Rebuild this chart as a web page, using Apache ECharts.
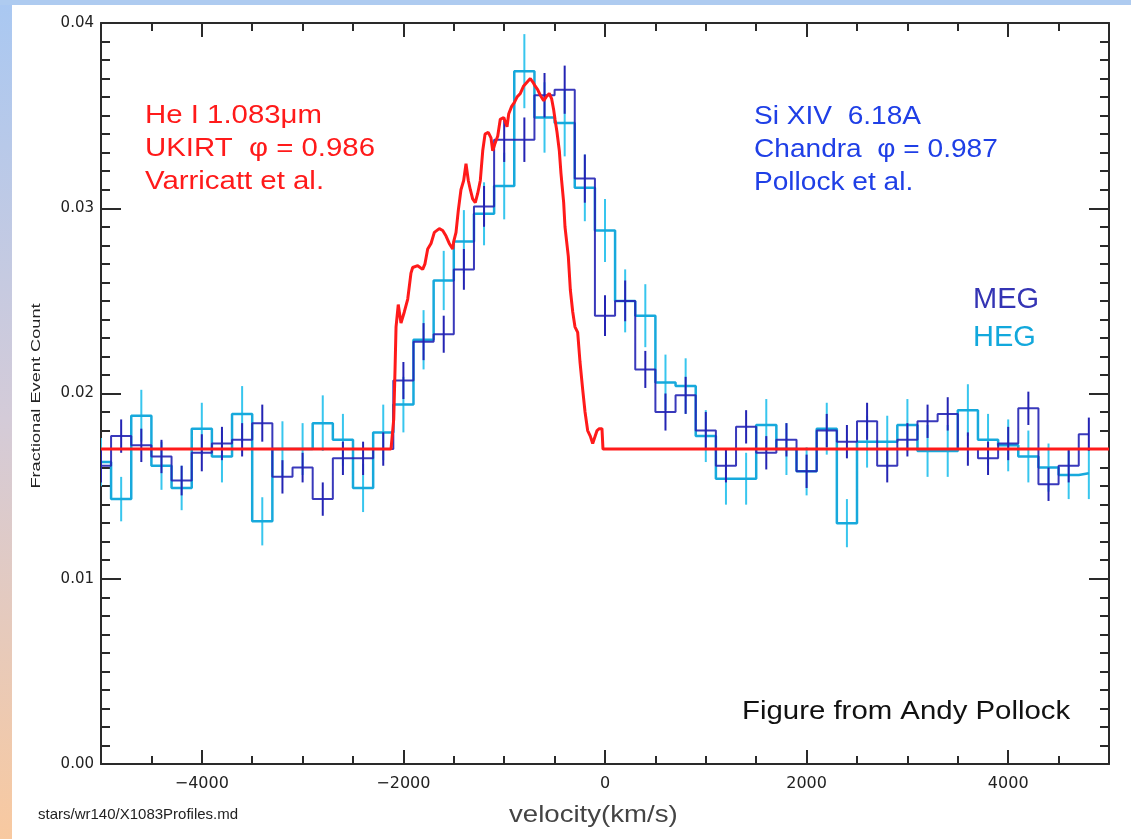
<!DOCTYPE html>
<html>
<head>
<meta charset="utf-8">
<title>He I 1.083um vs Si XIV 6.18A line profiles</title>
<script src="https://cdn.jsdelivr.net/npm/echarts@6/dist/echarts.min.js"></script>
<style>
  html, body { margin: 0; padding: 0; background: #fff; }
  #chart { width: 1131px; height: 839px; }
</style>
</head>
<body>
<div id="chart"></div>
<script>
// Chandra bin centres, km/s
var binVel = [-5000, -4800, -4600, -4400, -4200, -4000, -3800, -3600, -3400, -3200,
  -3000, -2800, -2600, -2400, -2200, -2000, -1800, -1600, -1400, -1200,
  -1000, -800, -600, -400, -200, 0, 200, 400, 600, 800,
  1000, 1200, 1400, 1600, 1800, 2000, 2200, 2400, 2600, 2800,
  3000, 3200, 3400, 3600, 3800, 4000, 4200, 4400, 4600, 4800];

var megY = [0.0161, 0.0177, 0.0172, 0.0166, 0.0153, 0.0168, 0.0173, 0.0175, 0.0184, 0.0155,
  0.0160, 0.0143, 0.0165, 0.0165, 0.0170, 0.0207, 0.0228, 0.0232, 0.0267, 0.0301,
  0.0337, 0.0337, 0.0361, 0.0364, 0.0316, 0.0242, 0.0250, 0.0213, 0.0190, 0.0199,
  0.0180, 0.0161, 0.0182, 0.0168, 0.0175, 0.0158, 0.0180, 0.0174, 0.0185, 0.0161,
  0.0175, 0.0185, 0.0189, 0.0170, 0.0165, 0.0173, 0.0192, 0.0151, 0.0161, 0.0178];
var megErr = [0.0009, 0.0009, 0.0009, 0.0009, 0.0008, 0.0010, 0.0009, 0.0009, 0.0010, 0.0009,
  0.0008, 0.0009, 0.0009, 0.0009, 0.0009, 0.0010, 0.0010, 0.0010, 0.0011, 0.0011,
  0.0012, 0.0012, 0.0012, 0.0013, 0.0013, 0.0011, 0.0011, 0.0010, 0.0010, 0.0010,
  0.0010, 0.0009, 0.0009, 0.0009, 0.0009, 0.0009, 0.0009, 0.0009, 0.0010, 0.0009,
  0.0009, 0.0009, 0.0009, 0.0009, 0.0009, 0.0009, 0.0009, 0.0009, 0.0009, 0.0009];

var hegY = [0.0163, 0.0143, 0.0188, 0.0161, 0.0149, 0.0181, 0.0166, 0.0189, 0.0131, 0.0170,
  0.0170, 0.0184, 0.0175, 0.0149, 0.0179, 0.0194, 0.0229, 0.0261, 0.0282, 0.0297,
  0.0312, 0.0374, 0.0349, 0.0346, 0.0311, 0.0288, 0.0250, 0.0242, 0.0206, 0.0204,
  0.0177, 0.0154, 0.0154, 0.0183, 0.0170, 0.0158, 0.0181, 0.0130, 0.0174, 0.0174,
  0.0183, 0.0169, 0.0169, 0.0191, 0.0175, 0.0172, 0.0166, 0.0160, 0.0156, 0.0157];
var hegErr = [0.0013, 0.0012, 0.0014, 0.0013, 0.0012, 0.0014, 0.0014, 0.0015, 0.0013, 0.0015,
  0.0014, 0.0015, 0.0014, 0.0013, 0.0015, 0.0015, 0.0016, 0.0016, 0.0017, 0.0017,
  0.0018, 0.0020, 0.0019, 0.0018, 0.0018, 0.0017, 0.0017, 0.0017, 0.0015, 0.0015,
  0.0014, 0.0014, 0.0014, 0.0014, 0.0014, 0.0013, 0.0014, 0.0013, 0.0014, 0.0014,
  0.0014, 0.0014, 0.0014, 0.0014, 0.0014, 0.0014, 0.0014, 0.0013, 0.0013, 0.0014];

// UKIRT He I profile (high resolution)
var heV = [-5000, -2123, -2096, -2083, -2073, -2051, -2024, -1991, -1957, -1925,
  -1908, -1858, -1809, -1786, -1759, -1726, -1693, -1644, -1610, -1577,
  -1545, -1511, -1501, -1478, -1455, -1429, -1402, -1379, -1356, -1336,
  -1313, -1287, -1263, -1237, -1213, -1190, -1158, -1131, -1114, -1091,
  -1064, -1039, -1005, -972, -955, -926, -900, -873, -840, -807,
  -774, -741, -714, -694, -668, -642, -608, -585, -553, -529,
  -509, -496, -476, -453, -437, -410, -397, -364, -344, -320,
  -298, -271, -248, -221, -198, -172, -146, -122, -106, -79,
  -57, -30, -20, 5000];
var heY = [0.0170, 0.0170, 0.0186, 0.0213, 0.0236, 0.0248, 0.0238, 0.0244, 0.0251, 0.0265,
  0.0268, 0.0269, 0.0267, 0.0270, 0.0278, 0.0281, 0.0287, 0.0289, 0.0288, 0.0285,
  0.0281, 0.0278, 0.0282, 0.0287, 0.0299, 0.0310, 0.0315, 0.0324, 0.0315, 0.0310,
  0.0305, 0.0303, 0.0308, 0.0315, 0.0331, 0.0340, 0.0341, 0.0338, 0.0331, 0.0335,
  0.0339, 0.0348, 0.0349, 0.0344, 0.0351, 0.0355, 0.0357, 0.0360, 0.0362, 0.0366,
  0.0368, 0.0370, 0.0368, 0.0366, 0.0364, 0.0361, 0.0358, 0.0360, 0.0362, 0.0359,
  0.0353, 0.0348, 0.0341, 0.0331, 0.0319, 0.0303, 0.0290, 0.0274, 0.0256, 0.0244,
  0.0236, 0.0233, 0.0217, 0.0202, 0.0190, 0.0180, 0.0177, 0.0173, 0.0172, 0.0180,
  0.0181, 0.0181, 0.0170, 0.0170];

var xMajorTicks = [-4000, -2000, 0, 2000, 4000];

(function () {
  var ink = '#2a2a2a';
  var red = '#ff1a1a';
  var megColor = '#2424b4';
  var hegColor = '#17a9dc';
  var tickFont = 'DejaVu Sans';
  var textFont = '"Liberation Sans", Arial, sans-serif';

  function zip(xs, ys) {
    return xs.map(function (x, i) { return [x, ys[i]]; });
  }
  function errData(xs, ys, es) {
    return xs.map(function (x, i) { return [x, ys[i] - es[i], ys[i] + es[i]]; });
  }
  function errBars(color, width) {
    return function (params, api) {
      var lo = api.coord([api.value(0), api.value(1)]);
      var hi = api.coord([api.value(0), api.value(2)]);
      return {
        type: 'line',
        shape: { x1: lo[0], y1: lo[1], x2: hi[0], y2: hi[1] },
        style: { stroke: color, lineWidth: width }
      };
    };
  }
  function xLabel(v) {
    if (v % 2000 !== 0) return '';
    return v < 0 ? '\u2212' + Math.abs(v) : String(v);
  }

  var xBase = { type: 'value', min: -5000, max: 5000, splitLine: { show: false } };
  var yBase = { type: 'value', min: 0, max: 0.04, interval: 0.01, splitLine: { show: false } };
  var line = { show: true, onZero: false, lineStyle: { color: ink, width: 2 } };
  var noLine = { show: false, onZero: false };

  var chart = echarts.init(document.getElementById('chart'), null, { renderer: 'canvas' });
  chart.setOption({
    animation: false,
    backgroundColor: '#ffffff',
    grid: { left: 101, right: 22, top: 23, bottom: 75 },
    xAxis: [
      Object.assign({}, xBase, {
        position: 'bottom', interval: 500,
        axisLine: line,
        axisTick: { inside: true, length: 8, lineStyle: { color: ink, width: 2 } },
        axisLabel: { formatter: xLabel, color: '#222', fontFamily: tickFont, fontSize: 16, margin: 12 }
      }),
      Object.assign({}, xBase, {
        position: 'bottom',
        axisLine: noLine,
        axisTick: { inside: true, length: 14, customValues: xMajorTicks, lineStyle: { color: ink, width: 2 } },
        axisLabel: { show: false }
      }),
      Object.assign({}, xBase, {
        position: 'top', interval: 500,
        axisLine: line,
        axisTick: { inside: true, length: 8, lineStyle: { color: ink, width: 2 } },
        axisLabel: { show: false }
      }),
      Object.assign({}, xBase, {
        position: 'top',
        axisLine: noLine,
        axisTick: { inside: true, length: 14, customValues: xMajorTicks, lineStyle: { color: ink, width: 2 } },
        axisLabel: { show: false }
      })
    ],
    yAxis: [
      Object.assign({}, yBase, {
        position: 'left',
        axisLine: line,
        axisTick: { inside: true, length: 20, lineStyle: { color: ink, width: 2 } },
        minorTick: { show: true, splitNumber: 10, length: 9, lineStyle: { color: ink, width: 2 } },
        axisLabel: {
          formatter: function (v) { return v.toFixed(2); },
          color: '#222', fontFamily: tickFont, fontSize: 15, margin: 7
        }
      }),
      Object.assign({}, yBase, {
        position: 'right',
        axisLine: line,
        axisTick: { inside: true, length: 20, lineStyle: { color: ink, width: 2 } },
        minorTick: { show: true, splitNumber: 10, length: 9, lineStyle: { color: ink, width: 2 } },
        axisLabel: { show: false }
      })
    ],
    series: [
      {
        name: 'HEG errors', type: 'custom', clip: true,
        renderItem: errBars('#38c6ee', 2),
        encode: { x: 0, y: [1, 2] },
        data: errData(binVel, hegY, hegErr), z: 2
      },
      {
        name: 'HEG', type: 'line', step: 'middle', symbol: 'none',
        data: zip(binVel, hegY),
        lineStyle: { color: hegColor, width: 2.5 }, z: 3
      },
      {
        name: 'MEG errors', type: 'custom', clip: true,
        renderItem: errBars(megColor, 2),
        encode: { x: 0, y: [1, 2] },
        data: errData(binVel, megY, megErr), z: 4
      },
      {
        name: 'MEG', type: 'line', step: 'middle', symbol: 'none',
        data: zip(binVel, megY),
        lineStyle: { color: megColor, width: 2, opacity: 0.9 }, z: 5
      },
      {
        name: 'He I', type: 'line', symbol: 'none',
        data: zip(heV, heY),
        lineStyle: { color: red, width: 3 }, z: 6
      }
    ],
    graphic: [
      {
        type: 'rect', shape: { x: 0, y: 0, width: 12, height: 839 }, silent: true,
        style: {
          fill: new echarts.graphic.LinearGradient(0, 0, 0, 1, [
            { offset: 0, color: '#a9c8f2' },
            { offset: 0.5, color: '#d4cbd8' },
            { offset: 1, color: '#f8c9a0' }
          ])
        }
      },
      { type: 'rect', shape: { x: 0, y: 0, width: 1131, height: 5 }, silent: true, style: { fill: '#aecbf0' } },

      { type: 'text', x: 145, y: 116, scaleX: 1.13, style: { text: 'He I 1.083\u03bcm', font: '26px ' + textFont, fill: red, textVerticalAlign: 'middle', verticalAlign: 'middle' } },
      { type: 'text', x: 145, y: 149, scaleX: 1.13, style: { text: 'UKIRT  \u03c6 = 0.986', font: '26px ' + textFont, fill: red, textVerticalAlign: 'middle', verticalAlign: 'middle' } },
      { type: 'text', x: 145, y: 182, scaleX: 1.13, style: { text: 'Varricatt et al.', font: '26px ' + textFont, fill: red, textVerticalAlign: 'middle', verticalAlign: 'middle' } },

      { type: 'text', x: 754, y: 117, scaleX: 1.08, style: { text: 'Si XIV  6.18A', font: '26px ' + textFont, fill: '#1f3fe6', textVerticalAlign: 'middle', verticalAlign: 'middle' } },
      { type: 'text', x: 754, y: 150, scaleX: 1.08, style: { text: 'Chandra  \u03c6 = 0.987', font: '26px ' + textFont, fill: '#1f3fe6', textVerticalAlign: 'middle', verticalAlign: 'middle' } },
      { type: 'text', x: 754, y: 183, scaleX: 1.08, style: { text: 'Pollock et al.', font: '26px ' + textFont, fill: '#1f3fe6', textVerticalAlign: 'middle', verticalAlign: 'middle' } },

      { type: 'text', x: 973, y: 300, style: { text: 'MEG', font: '29px ' + textFont, fill: '#3434b4', textVerticalAlign: 'middle', verticalAlign: 'middle' } },
      { type: 'text', x: 973, y: 338, style: { text: 'HEG', font: '29px ' + textFont, fill: '#12a8dc', textVerticalAlign: 'middle', verticalAlign: 'middle' } },

      { type: 'text', x: 742, y: 712, scaleX: 1.13, style: { text: 'Figure from Andy Pollock', font: '26px ' + textFont, fill: '#111', textVerticalAlign: 'middle', verticalAlign: 'middle' } },
      { type: 'text', x: 509, y: 815, scaleX: 1.15, style: { text: 'velocity(km/s)', font: '24px ' + textFont, fill: '#444', textVerticalAlign: 'middle', verticalAlign: 'middle' } },
      { type: 'text', x: 38, y: 815, style: { text: 'stars/wr140/X1083Profiles.md', font: '15px ' + textFont, fill: '#222', textVerticalAlign: 'middle', verticalAlign: 'middle' } },
      {
        type: 'text', x: 36, y: 396, rotation: Math.PI / 2, scaleX: 1.4,
        style: { text: 'Fractional Event Count', font: '13px ' + textFont, fill: '#222', textAlign: 'center', align: 'center', textVerticalAlign: 'middle', verticalAlign: 'middle' }
      }
    ]
  });
  window.addEventListener('resize', function () { chart.resize(); });
})();
</script>
</body>
</html>
